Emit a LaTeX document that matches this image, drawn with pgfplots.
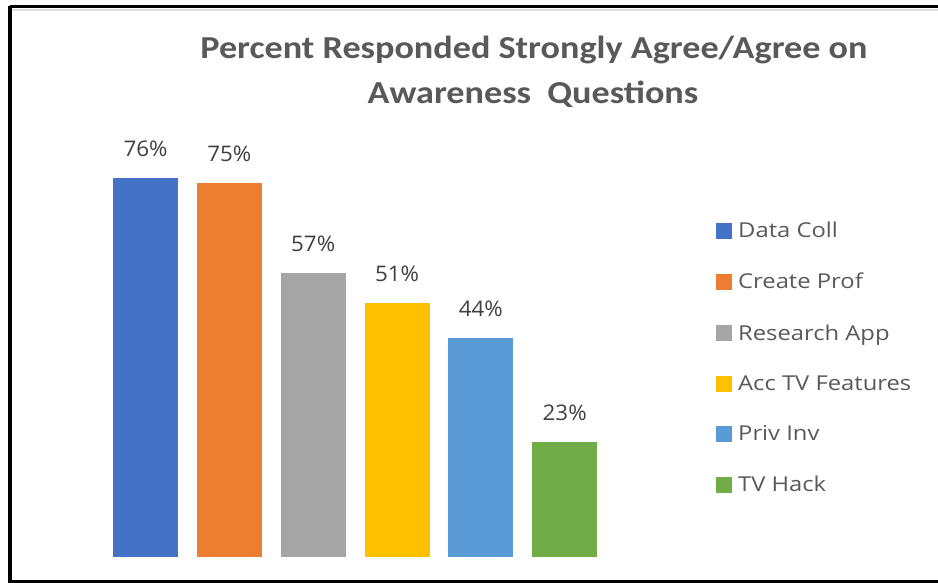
\documentclass[border=0pt]{standalone}
\usepackage{fontspec}
\setmainfont{Open Sans}
\newfontfamily\titlefont[FakeStretch=1.13]{Carlito}
\newfontfamily\legfont[FakeStretch=1.16]{Open Sans}
\newfontfamily\lblfont[FakeStretch=1.04]{Open Sans}
\usepackage{pgfplots}
\pgfplotsset{compat=1.18}
\definecolor{c1}{HTML}{4472C4}
\definecolor{c2}{HTML}{ED7D31}
\definecolor{c3}{HTML}{A5A5A5}
\definecolor{c4}{HTML}{FFC000}
\definecolor{c5}{HTML}{5B9BD5}
\definecolor{c6}{HTML}{70AD47}
\definecolor{txt}{HTML}{595959}
\definecolor{lbl}{HTML}{404040}
\begin{document}
\begin{tikzpicture}[x=1pt,y=1pt]
\useasboundingbox (0,0) rectangle (938,583);
\fill[white] (0,0) rectangle (938,583);
% frame
\draw[line width=1.2pt, black!12] (12,573) -- (938,573);
\draw[line width=3.5pt] (10,583-6.5) -- (940,583-6.5);
\draw[line width=4pt] (10,583-6.5) -- (10,0);
\draw[line width=3.5pt] (8,1.5) -- (940,1.5);
% title
\node[anchor=base, inner sep=0pt, font=\titlefont\bfseries\fontsize{32}{40}\selectfont, text=txt] at (534,583-58.3) {Percent Responded Strongly Agree/Agree on};
\node[anchor=base, inner sep=0pt, font=\titlefont\bfseries\fontsize{32}{40}\selectfont, text=txt] at (533,583-103.5) {Awareness\ \ Questions};
\begin{axis}[
  at={(145.5pt,26pt)}, anchor=origin,
  scale only axis, width=503pt, height=399pt,
  xmin=-0.5, xmax=5.5, ymin=0, ymax=80,
  xtick=\empty, ytick=\empty,
  hide axis,
  ybar, bar width=65pt, bar shift=0pt,
  nodes near coords={\pgfmathprintnumber[assume math mode=true]{\pgfplotspointmeta}\%},
  nodes near coords style={font=\lblfont\fontsize{21.5}{25}\selectfont, text=lbl, anchor=base, yshift=21.5pt},
  legend style={at={(1.2195,0.8496)}, anchor=north west, draw=none, fill=none, xshift=-4pt,
    font=\legfont\fontsize{20.5}{24}\selectfont, text=txt, row sep=30pt, cells={anchor=west},
    /tikz/every odd column/.append style={column sep=4pt}},
  legend image code/.code={\fill[#1] (0pt,-8pt) rectangle (16pt,8pt);},
  every axis plot/.append style={draw=none},
]
\addplot[fill=c1] coordinates {(0,76)};
\addplot[fill=c2] coordinates {(1,75)};
\addplot[fill=c3] coordinates {(2,57)};
\addplot[fill=c4] coordinates {(3,51)};
\addplot[fill=c5] coordinates {(4,44)};
\addplot[fill=c6] coordinates {(5,23)};
\legend{Data Coll, Create Prof, Research App, Acc TV Features, Priv Inv, TV Hack}
\end{axis}
\end{tikzpicture}
\end{document}
